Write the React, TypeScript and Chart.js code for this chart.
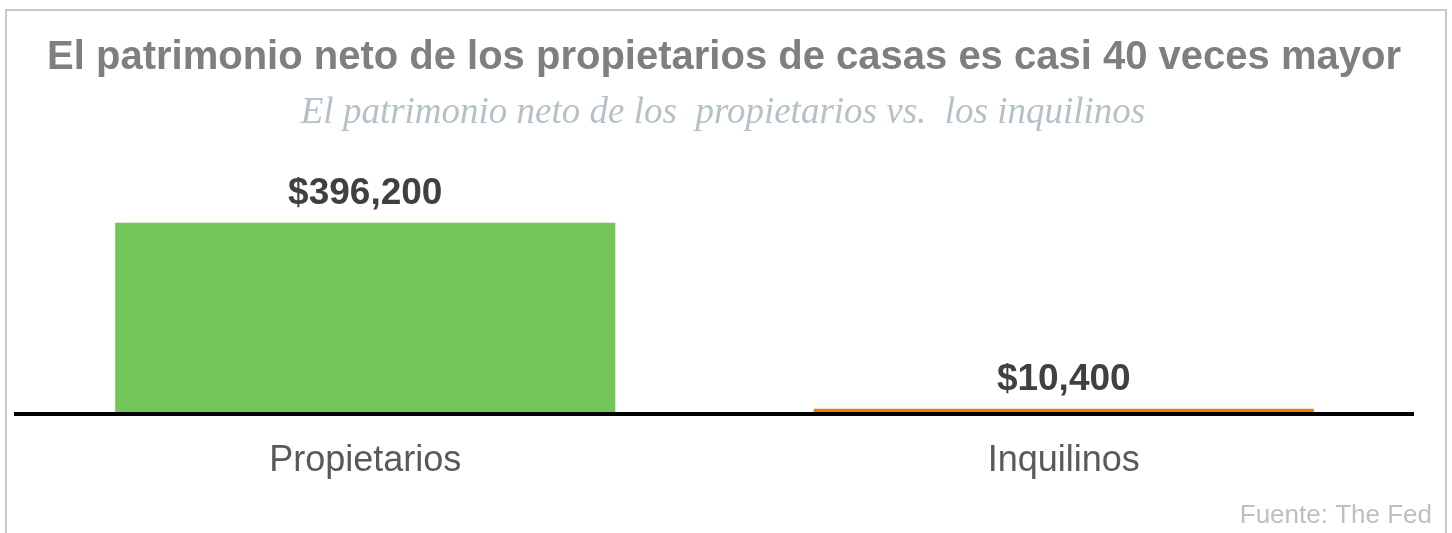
import React, { useEffect, useRef } from "react";
import { Chart, registerables } from "chart.js";

Chart.register(...registerables);

const categories = ["Propietarios", "Inquilinos"];
const netWorth = [396200, 10400];
const valueLabels = ["$396,200", "$10,400"];
const barColors = ["#73c45a", "#f47b00"];
const titleText = "El patrimonio neto de los propietarios de casas es casi 40 veces mayor";
const subtitleText = "El patrimonio neto de los  propietarios vs.  los inquilinos";
const sourceText = "Fuente: The Fed";

const W = 1452;
const H = 533;

export default function App() {
  const ref = useRef<HTMLCanvasElement | null>(null);

  useEffect(() => {
    if (!ref.current) return;
    const textPlugin = {
      id: "texts",
      afterDraw(chart: any) {
        const ctx = chart.ctx as CanvasRenderingContext2D;
        ctx.save();
        ctx.textAlign = "center";
        ctx.textBaseline = "alphabetic";
        ctx.fillStyle = "#7f7f7f";
        ctx.font = "bold 40px 'Liberation Sans', Arial, sans-serif";
        ctx.fillText(titleText, 724, 69);
        ctx.fillStyle = "#b4c2c8";
        ctx.font = "italic 37px 'Liberation Serif', 'Times New Roman', serif";
        ctx.fillText(subtitleText, 723, 123);
        // value labels
        const meta = chart.getDatasetMeta(0);
        ctx.fillStyle = "#404040";
        ctx.font = "bold 37px 'Liberation Sans', Arial, sans-serif";
        meta.data.forEach((bar: any, i: number) => {
          ctx.fillText(valueLabels[i], bar.x, bar.y - 19);
        });
        ctx.textAlign = "right";
        ctx.fillStyle = "#bfbfbf";
        ctx.font = "26px 'Liberation Sans', Arial, sans-serif";
        ctx.fillText(sourceText, 1432, 523);
        ctx.restore();
      },
    };
    const chart = new Chart(ref.current, {
      type: "bar",
      data: {
        labels: categories,
        datasets: [
          {
            data: netWorth,
            backgroundColor: barColors,
            borderWidth: 0,
            categoryPercentage: 1,
            barPercentage: 0.716,
          },
        ],
      },
      options: {
        animation: false,
        responsive: false,
        layout: { padding: { top: 150, left: 16, right: 39, bottom: 24 } },
        plugins: {
          legend: { display: false },
          tooltip: { enabled: false },
          title: { display: false },
        },
        scales: {
          x: {
            grid: { display: false, drawTicks: false },
            border: { display: true, color: "#000000", width: 4, z: 1 },
            ticks: {
              color: "#595959",
              padding: 26,
              font: { family: "'Liberation Sans', Arial, sans-serif", size: 36 },
            },
          },
          y: {
            display: false,
            min: 0,
            max: 547000,
          },
        },
      },
      plugins: [textPlugin],
    });
    return () => chart.destroy();
  }, []);

  return (
    <div style={{ position: "fixed", left: 0, top: 0, width: W, height: H, overflow: "hidden", background: "#ffffff" }}>
      <div
        style={{
          position: "absolute",
          left: 5,
          top: 9,
          width: 1438,
          height: 600,
          border: "2px solid #c8c8c8",
        }}
      />
      <canvas ref={ref} width={W} height={H} style={{ position: "absolute", left: 0, top: 0, width: W, height: H }} />
    </div>
  );
}
